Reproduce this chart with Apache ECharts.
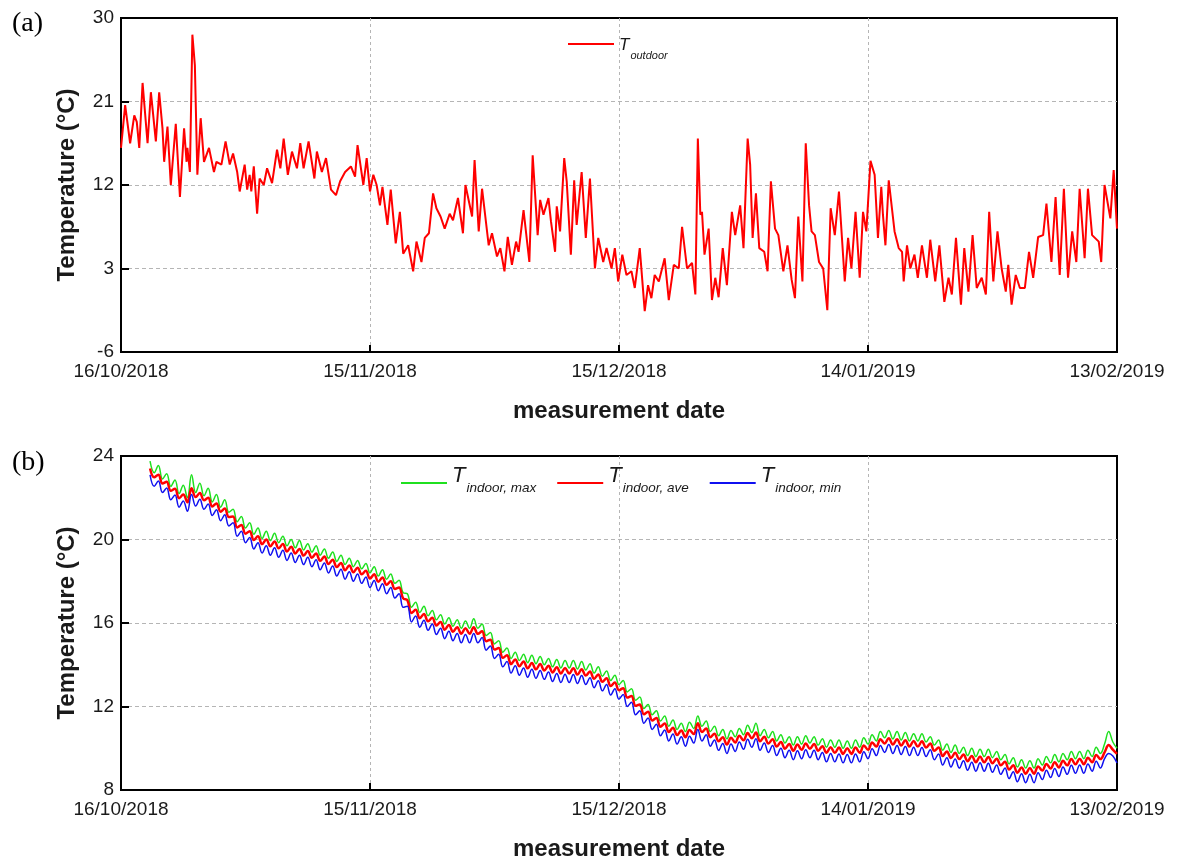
<!DOCTYPE html>
<html>
<head>
<meta charset="utf-8">
<title>Temperature</title>
<script src="https://cdn.jsdelivr.net/npm/echarts@6/dist/echarts.min.js"></script>
<style>
  html, body { margin: 0; padding: 0; background: #fff; }
  #chart { width: 1191px; height: 866px; }
</style>
</head>
<body>
<div id="chart"></div>
<script>
// x values are days after 16/10/2018
const dateTickLabels = ["16/10/2018", "15/11/2018", "15/12/2018", "14/01/2019", "13/02/2019"];

// outdoor temperature, [day, °C]
const outdoorPoints = [
  [0,16.0],[0.5,20.6],[1.1,16.5],[1.6,19.5],[1.9,18.8],[2.2,16.0],[2.6,23.0],[3.2,16.5],[3.6,22.0],[4.2,16.7],
  [4.6,22.0],[5.0,18.1],[5.2,14.5],[5.6,18.3],[6.0,12.0],[6.6,18.6],[7.1,10.7],[7.6,18.1],[7.9,14.5],[8.0,16.0],
  [8.3,13.4],[8.6,28.2],[8.9,24.9],[9.2,13.1],[9.6,19.2],[10.0,14.5],[10.6,16.0],[11.2,13.4],[11.5,14.5],[12.1,14.2],
  [12.6,16.7],[13.1,14.2],[13.5,15.4],[14.0,13.4],[14.3,11.3],[14.9,14.2],[15.2,11.5],[15.5,13.1],[15.7,11.3],[16.0,14.0],
  [16.4,8.9],[16.7,12.7],[17.2,12.0],[17.6,13.8],[18.2,12.2],[18.8,15.8],[19.2,13.8],[19.6,17.0],[20.1,13.1],[20.6,15.6],
  [21.2,13.8],[21.6,16.5],[22.0,13.8],[22.6,16.7],[23.3,12.7],[23.6,15.6],[24.2,13.4],[24.7,14.9],[25.3,11.5],[25.9,10.9],
  [26.4,12.4],[27.0,13.4],[27.7,14.0],[28.2,12.9],[28.5,16.3],[29.2,12.0],[29.6,14.9],[30.0,11.3],[30.4,13.1],[30.8,12.0],
  [31.2,9.8],[31.5,11.8],[32.1,7.7],[32.5,11.5],[33.1,5.7],[33.6,9.1],[34.0,4.6],[34.6,5.5],[35.2,2.7],[35.6,5.9],
  [36.2,3.7],[36.6,6.3],[37.1,6.8],[37.6,11.1],[38.0,9.5],[38.5,8.6],[39.0,7.3],[39.6,8.9],[40.0,8.2],[40.6,10.6],
  [41.2,6.8],[41.5,12.0],[42.3,8.6],[42.6,14.7],[43.1,7.0],[43.5,11.6],[44.3,5.5],[44.7,6.8],[45.3,4.3],[45.7,5.2],
  [46.2,2.7],[46.6,6.4],[47.1,3.4],[47.6,5.9],[47.9,4.8],[48.5,9.3],[49.2,3.7],[49.6,15.2],[50.2,6.6],[50.5,10.4],
  [50.9,8.8],[51.5,10.6],[51.8,8.1],[52.3,4.8],[52.5,9.7],[52.9,7.0],[53.4,14.9],[53.7,12.4],[54.2,4.5],[54.6,12.5],
  [54.9,7.7],[55.5,13.4],[56.0,6.3],[56.5,12.7],[57.1,3.0],[57.5,6.3],[58.1,3.7],[58.5,5.2],[59.1,3.0],[59.5,5.2],
  [59.9,1.6],[60.4,4.5],[60.9,2.3],[61.5,2.7],[61.9,0.9],[62.5,5.2],[63.1,-1.6],[63.5,1.2],[63.9,-0.2],[64.3,2.3],
  [64.8,1.6],[65.5,4.1],[66.0,-0.4],[66.6,3.4],[67.2,3.0],[67.6,7.5],[68.2,3.0],[68.8,3.6],[69.2,0.2],[69.5,17.0],
  [69.8,8.8],[70.0,9.1],[70.3,4.5],[70.8,7.3],[71.2,-0.4],[71.6,2.0],[72.0,-0.1],[72.5,5.2],[73.0,1.2],[73.6,9.1],
  [74.0,6.6],[74.6,9.8],[75.0,5.2],[75.5,17.0],[75.8,14.2],[76.1,6.3],[76.5,11.1],[76.9,5.2],[77.5,4.8],[77.9,2.7],
  [78.3,12.4],[78.8,7.3],[79.2,6.6],[79.8,2.7],[80.3,5.5],[80.8,1.8],[81.2,-0.2],[81.6,8.6],[82.1,1.6],[82.5,16.5],
  [82.9,9.8],[83.2,7.0],[83.6,6.6],[84.1,3.7],[84.6,3.0],[85.1,-1.5],[85.5,9.5],[86.0,6.6],[86.5,11.3],[87.2,1.6],
  [87.6,6.3],[88.0,3.0],[88.5,9.1],[89.0,2.0],[89.4,9.1],[89.8,7.0],[90.3,14.6],[90.8,13.1],[91.2,6.3],[91.6,11.8],
  [91.8,8.8],[92.1,5.5],[92.5,12.5],[93.2,7.0],[93.7,5.2],[94.1,4.8],[94.3,1.6],[94.7,5.5],[95.1,3.0],[95.6,4.5],
  [96.0,2.0],[96.5,5.5],[97.1,2.0],[97.5,6.1],[98.1,1.6],[98.6,5.5],[99.2,-0.6],[99.7,2.0],[100.1,0.2],[100.6,6.3],
  [101.2,-0.9],[101.6,5.2],[102.1,0.5],[102.6,6.6],[103.1,0.9],[103.7,2.0],[104.2,0.2],[104.6,9.1],[105.1,1.6],[105.6,7.0],
  [106.1,3.0],[106.6,0.5],[106.9,3.4],[107.3,-0.9],[107.8,2.3],[108.3,0.9],[108.9,0.9],[109.4,4.8],[109.9,2.0],[110.5,6.4],
  [111.1,6.6],[111.5,10.0],[112.1,3.7],[112.6,10.7],[113.1,2.3],[113.6,11.6],[114.1,2.0],[114.6,7.0],[115.1,3.7],[115.5,11.6],
  [116.1,4.1],[116.5,11.6],[117.0,6.6],[117.8,5.9],[118.1,3.7],[118.5,12.0],[119.2,8.4],[119.6,13.6],[120.0,7.3]
];

// indoor readings every half day from day 3.5 (afternoon high, night low)
const indoorStartDay = 3.5;
const indoorStep = 0.5;

const indoorMax = [
  23.75,23.20, 23.55,22.90, 23.15,22.55, 22.85,22.20, 22.60,22.00, 23.10,22.25, 22.70,22.10, 22.45,21.80, 22.15,21.55, 21.90,21.30,
  21.45,20.85, 21.10,20.55, 20.80,20.25, 20.55,20.05, 20.40,19.95, 20.30,19.85, 20.15,19.70, 20.00,19.60, 19.95,19.50, 19.80,19.40,
  19.70,19.25, 19.55,19.10, 19.40,18.95, 19.25,18.80, 19.10,18.70, 19.00,18.60, 18.85,18.40, 18.70,18.25, 18.55,18.10, 18.35,17.90,
  18.05,17.45, 17.40,16.75, 17.00,16.50, 16.80,16.35, 16.60,16.15, 16.40,15.95, 16.25,15.85, 16.15,15.75, 16.10,15.75, 16.20,15.75,
  15.95,15.40, 15.55,15.00, 15.15,14.60, 14.80,14.30, 14.60,14.20, 14.50,14.10, 14.45,14.05, 14.40,14.00, 14.30,13.90, 14.25,13.85,
  14.20,13.85, 14.20,13.80, 14.15,13.75, 14.05,13.60, 13.90,13.45, 13.70,13.25, 13.50,13.05, 13.25,12.70, 12.85,12.30, 12.45,11.90,
  12.10,11.60, 11.80,11.30, 11.55,11.05, 11.35,10.90, 11.20,10.80, 11.25,10.95, 11.55,11.05, 11.30,10.80, 11.05,10.60, 10.90,10.45,
  10.85,10.55, 10.95,10.65, 11.10,10.75, 11.20,10.60, 10.90,10.50, 10.80,10.35, 10.65,10.25, 10.55,10.15, 10.55,10.20, 10.60,10.25,
  10.55,10.15, 10.45,10.05, 10.40,10.05, 10.40,10.00, 10.35,10.00, 10.40,10.05, 10.50,10.20, 10.65,10.35, 10.80,10.50, 10.85,10.45,
  10.80,10.40, 10.75,10.35, 10.70,10.35, 10.70,10.30, 10.55,10.15, 10.40,9.90, 10.20,9.80, 10.15,9.75, 10.05,9.65, 10.00,9.60,
  9.95,9.60, 9.95,9.55, 9.85,9.45, 9.70,9.25, 9.55,9.10, 9.45,9.05, 9.40,9.05, 9.50,9.20, 9.60,9.30, 9.70,9.35,
  9.75,9.45, 9.85,9.50, 9.85,9.50, 9.90,9.60, 10.05,9.75, 10.20,10.80, 10.30,10.00
];

const indoorAve = [
  23.40,22.98, 23.10,22.68, 22.77,22.33, 22.43,21.98, 22.15,21.78, 22.45,22.03, 22.23,21.88, 22.00,21.58, 21.73,21.33, 21.48,21.08,
  21.10,20.58, 20.70,20.28, 20.40,19.98, 20.15,19.78, 20.00,19.68, 19.90,19.58, 19.78,19.43, 19.65,19.33, 19.55,19.23, 19.45,19.13,
  19.33,18.98, 19.18,18.83, 19.03,18.68, 18.88,18.53, 18.75,18.43, 18.65,18.33, 18.50,18.13, 18.33,17.98, 18.18,17.83, 18.00,17.63,
  17.70,17.18, 17.10,16.48, 16.63,16.23, 16.43,16.08, 16.25,15.88, 16.05,15.68, 15.90,15.58, 15.80,15.48, 15.75,15.48, 15.80,15.48,
  15.60,15.13, 15.20,14.73, 14.80,14.33, 14.45,14.03, 14.25,13.93, 14.15,13.83, 14.08,13.78, 14.03,13.73, 13.95,13.63, 13.88,13.58,
  13.85,13.58, 13.83,13.53, 13.78,13.48, 13.68,13.33, 13.53,13.18, 13.35,12.98, 13.15,12.78, 12.88,12.43, 12.50,12.03, 12.10,11.63,
  11.75,11.33, 11.45,11.03, 11.18,10.78, 10.98,10.63, 10.85,10.53, 10.87,10.68, 11.20,10.78, 10.95,10.53, 10.70,10.33, 10.53,10.18,
  10.50,10.28, 10.60,10.38, 10.73,10.48, 10.75,10.33, 10.55,10.23, 10.43,10.08, 10.30,9.98, 10.20,9.88, 10.18,9.93, 10.23,9.98,
  10.20,9.88, 10.10,9.78, 10.05,9.78, 10.03,9.73, 10.00,9.73, 10.03,9.78, 10.13,9.93, 10.28,10.08, 10.43,10.23, 10.48,10.18,
  10.43,10.13, 10.38,10.08, 10.35,10.08, 10.33,10.03, 10.23,9.88, 10.03,9.63, 9.85,9.53, 9.78,9.48, 9.70,9.38, 9.63,9.33,
  9.60,9.33, 9.58,9.28, 9.50,9.18, 9.35,8.98, 9.18,8.83, 9.08,8.78, 9.05,8.78, 9.13,8.93, 9.25,9.03, 9.33,9.08,
  9.40,9.18, 9.48,9.23, 9.50,9.23, 9.55,9.33, 9.68,9.48, 9.80,10.15, 9.93,9.73
];

const indoorMin = [
  23.10,22.55, 22.80,22.25, 22.47,21.90, 22.13,21.55, 21.85,21.35, 22.15,21.60, 21.93,21.45, 21.70,21.15, 21.43,20.90, 21.18,20.65,
  20.80,20.15, 20.40,19.85, 20.10,19.55, 19.85,19.35, 19.70,19.25, 19.60,19.15, 19.48,19.00, 19.35,18.90, 19.25,18.80, 19.15,18.70,
  19.03,18.55, 18.88,18.40, 18.73,18.25, 18.58,18.10, 18.45,18.00, 18.35,17.90, 18.20,17.70, 18.03,17.55, 17.88,17.40, 17.70,17.20,
  17.40,16.75, 16.80,16.05, 16.33,15.80, 16.13,15.65, 15.95,15.45, 15.75,15.25, 15.60,15.15, 15.50,15.05, 15.45,15.05, 15.50,15.05,
  15.30,14.70, 14.90,14.30, 14.50,13.90, 14.15,13.60, 13.95,13.50, 13.85,13.40, 13.78,13.35, 13.73,13.30, 13.65,13.20, 13.58,13.15,
  13.55,13.15, 13.53,13.10, 13.48,13.05, 13.38,12.90, 13.23,12.75, 13.05,12.55, 12.85,12.35, 12.58,12.00, 12.20,11.60, 11.80,11.20,
  11.45,10.90, 11.15,10.60, 10.88,10.35, 10.68,10.20, 10.55,10.10, 10.57,10.25, 10.90,10.35, 10.65,10.10, 10.40,9.90, 10.23,9.75,
  10.20,9.85, 10.30,9.95, 10.43,10.05, 10.45,9.90, 10.25,9.80, 10.13,9.65, 10.00,9.55, 9.90,9.45, 9.88,9.50, 9.93,9.55,
  9.90,9.45, 9.80,9.35, 9.75,9.35, 9.73,9.30, 9.70,9.30, 9.73,9.35, 9.83,9.50, 9.98,9.65, 10.13,9.80, 10.18,9.75,
  10.13,9.70, 10.08,9.65, 10.05,9.65, 10.03,9.60, 9.93,9.45, 9.73,9.20, 9.55,9.10, 9.48,9.05, 9.40,8.95, 9.33,8.90,
  9.30,8.90, 9.28,8.85, 9.20,8.75, 9.05,8.55, 8.88,8.40, 8.78,8.35, 8.75,8.35, 8.83,8.50, 8.95,8.60, 9.03,8.65,
  9.10,8.75, 9.18,8.80, 9.20,8.80, 9.25,8.90, 9.38,9.05, 9.50,9.75, 9.63,9.30
];

const toPairs = (vals) => vals.map((v, i) => [indoorStartDay + i * indoorStep, v]);

const FONT = '"Liberation Sans", Arial, sans-serif';
const TEXT = "#1a1a1a";

function makeXAxis(gridIndex) {
  return {
    type: "value",
    gridIndex: gridIndex,
    min: 0,
    max: 120,
    interval: 30,
    name: "measurement date",
    nameLocation: "middle",
    nameGap: 47,
    nameTextStyle: { fontFamily: FONT, fontSize: 24, fontWeight: "bold", color: TEXT },
    axisLine: { onZero: false, lineStyle: { color: "#000", width: 2 } },
    axisTick: { inside: true, length: 7, lineStyle: { color: "#000", width: 2 } },
    axisLabel: {
      fontFamily: FONT, fontSize: 19, color: TEXT, margin: 10,
      formatter: (v) => dateTickLabels[Math.round(v / 30)]
    },
    splitLine: {
      show: true, showMinLine: false, showMaxLine: false,
      lineStyle: { color: "#b5b5b5", width: 1, type: [3, 3] }
    }
  };
}

function makeYAxis(gridIndex, min, max, interval) {
  return {
    type: "value",
    gridIndex: gridIndex,
    min: min,
    max: max,
    interval: interval,
    name: "Temperature (°C)",
    nameLocation: "middle",
    nameGap: 42,
    nameTextStyle: { fontFamily: FONT, fontSize: 24, fontWeight: "bold", color: TEXT },
    axisLine: { show: true, onZero: false, lineStyle: { color: "#000", width: 2 } },
    axisTick: { show: true, inside: true, length: 8, lineStyle: { color: "#000", width: 2 } },
    axisLabel: { fontFamily: FONT, fontSize: 19, color: TEXT, margin: 7 },
    splitLine: {
      show: true, showMinLine: false, showMaxLine: false,
      lineStyle: { color: "#b5b5b5", width: 1, type: [4, 3] }
    }
  };
}

const legendText = (name) => "{T|T}{s|" + name + "}";

const chart = echarts.init(document.getElementById("chart"));
chart.setOption({
  animation: false,
  backgroundColor: "#fff",
  title: [
    { text: "(a)", left: 7, top: 5, textStyle: { fontFamily: '"Liberation Serif", serif', fontSize: 28, fontWeight: "normal", color: "#000" } },
    { text: "(b)", left: 7, top: 444, textStyle: { fontFamily: '"Liberation Serif", serif', fontSize: 28, fontWeight: "normal", color: "#000" } }
  ],
  grid: [
    { left: 121, top: 18, width: 996, height: 334, show: true, borderColor: "#000", borderWidth: 2 },
    { left: 121, top: 456, width: 996, height: 334, show: true, borderColor: "#000", borderWidth: 2 }
  ],
  legend: [
    {
      data: ["outdoor"],
      left: 567, top: 34, padding: 0,
      itemWidth: 46, itemHeight: 10, itemGap: 20,
      itemStyle: { opacity: 0 },
      formatter: legendText,
      textStyle: {
        color: TEXT,
        rich: {
          T: { fontFamily: FONT, fontStyle: "italic", fontSize: 17, lineHeight: 20, padding: [3, 0, 0, 0], verticalAlign: "top", color: TEXT },
          s: { fontFamily: FONT, fontStyle: "italic", fontSize: 11, lineHeight: 12, padding: [16, 0, 0, 1], verticalAlign: "top", color: TEXT }
        }
      }
    },
    {
      data: ["indoor, max", "indoor, ave", "indoor, min"],
      left: 400, top: 463, padding: 0,
      itemWidth: 46, itemHeight: 10, itemGap: 20,
      itemStyle: { opacity: 0 },
      formatter: legendText,
      textStyle: {
        color: TEXT,
        rich: {
          T: { fontFamily: FONT, fontStyle: "italic", fontSize: 22, lineHeight: 40, padding: [2, 0, 0, 0], verticalAlign: "top", color: TEXT },
          s: { fontFamily: FONT, fontStyle: "italic", fontSize: 13.5, lineHeight: 14, padding: [18, 0, 0, 1], verticalAlign: "top", color: TEXT }
        }
      }
    }
  ],
  xAxis: [makeXAxis(0), makeXAxis(1)],
  yAxis: [makeYAxis(0, -6, 30, 9), makeYAxis(1, 8, 24, 4)],
  series: [
    {
      name: "outdoor", type: "line", xAxisIndex: 0, yAxisIndex: 0,
      symbol: "none", data: outdoorPoints,
      lineStyle: { color: "#ff0000", width: 2 }, itemStyle: { color: "#ff0000" }
    },
    {
      name: "indoor, max", type: "line", xAxisIndex: 1, yAxisIndex: 1,
      symbol: "none", smooth: 0.4, data: toPairs(indoorMax),
      lineStyle: { color: "#1fe01f", width: 1.5 }, itemStyle: { color: "#1fe01f" }
    },
    {
      name: "indoor, ave", type: "line", xAxisIndex: 1, yAxisIndex: 1,
      symbol: "none", smooth: 0.4, data: toPairs(indoorAve),
      lineStyle: { color: "#ff0000", width: 2.5 }, itemStyle: { color: "#ff0000" }
    },
    {
      name: "indoor, min", type: "line", xAxisIndex: 1, yAxisIndex: 1,
      symbol: "none", smooth: 0.4, data: toPairs(indoorMin),
      lineStyle: { color: "#1010f0", width: 1.5 }, itemStyle: { color: "#1010f0" }
    }
  ]
});
window.addEventListener("resize", () => chart.resize());
</script>
</body>
</html>
